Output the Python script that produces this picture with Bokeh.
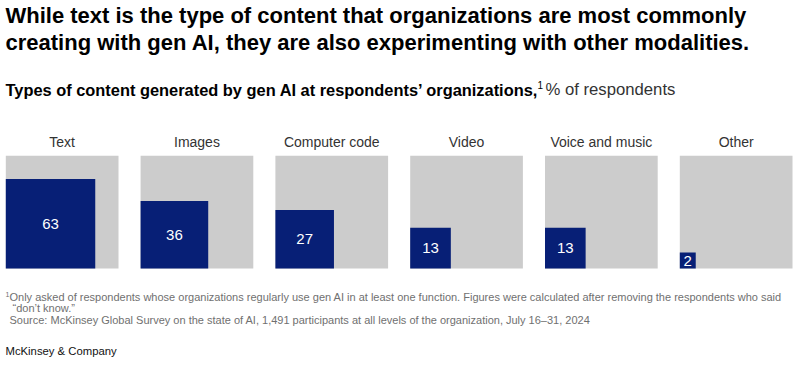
import numpy as np
from bokeh.plotting import figure
from bokeh.models import Range1d, Label, ColumnDataSource
from bokeh.embed import file_html
from bokeh.resources import INLINE
from bokeh.core.properties import value

# ---- data ----
categories = ["Text", "Images", "Computer code", "Video", "Voice and music", "Other"]
values = [63, 36, 27, 13, 13, 2]

title_lines = [
    "While text is the type of content that organizations are most commonly",
    "creating with gen AI, they are also experimenting with other modalities.",
]
subtitle_bold = "Types of content generated by gen AI at respondents\u2019 organizations,"
subtitle_unit = "% of respondents"
footnote_lines = [
    "Only asked of respondents whose organizations regularly use gen AI in at least one function. Figures were calculated after removing the respondents who said",
    "\u201cdon\u2019t know.\u201d",
    "Source: McKinsey Global Survey on the state of AI, 1,491 participants at all levels of the organization, July 16\u201331, 2024",
]
brand = "McKinsey & Company"

# ---- layout (pixel space) ----
W, H = 794, 357
PANEL_X0 = 5.3
PANEL_STEP = 134.8
SIDE = 112.7
PANEL_BOTTOM = 268.0
FONT = "Liberation Sans"
BLUE = "#071f76"
GRAY = "#cccccc"

n = len(categories)
idx = np.arange(n)
left = PANEL_X0 + idx * PANEL_STEP
frac_side = np.sqrt(np.array(values) / 100.0) * SIDE

bg = ColumnDataSource(dict(left=left, right=left + SIDE,
                           top=np.full(n, PANEL_BOTTOM - SIDE), bottom=np.full(n, PANEL_BOTTOM)))
fg = ColumnDataSource(dict(left=left, right=left + frac_side,
                           top=PANEL_BOTTOM - frac_side, bottom=np.full(n, PANEL_BOTTOM),
                           cx=left + frac_side / 2, cy=PANEL_BOTTOM - frac_side / 2,
                           lbl=[str(v) for v in values]))
cat = ColumnDataSource(dict(x=left + SIDE / 2, y=np.full(n, 141.0), lbl=categories))

p = figure(width=W, height=H, output_backend="svg", toolbar_location=None,
           x_range=Range1d(0, W), y_range=Range1d(H, 0), min_border=0)
p.axis.visible = False
p.grid.visible = False
p.outline_line_color = None
p.background_fill_color = "white"
p.border_fill_color = "white"

p.quad(left="left", right="right", top="top", bottom="bottom", source=bg,
       fill_color=GRAY, line_color=None)
p.quad(left="left", right="right", top="top", bottom="bottom", source=fg,
       fill_color=BLUE, line_color=None)
p.text(x="cx", y="cy", text="lbl", source=fg, text_align="center", text_baseline="middle",
       text_font=value(FONT), text_font_size="15px", text_color="white")
p.text(x="x", y="y", text="lbl", source=cat, text_align="center", text_baseline="middle",
       text_font=value(FONT), text_font_size="14px", text_color="#333333")

def lab(x, y, t, size, color="#000000", style="normal"):
    p.add_layout(Label(x=x, y=y, text=t, text_font=FONT, text_font_size=size,
                       text_color=color, text_font_style=style,
                       text_align="left", text_baseline="middle"))

lab(5, 15, title_lines[0], "22px", style="bold")
lab(5, 42, title_lines[1], "22px", style="bold")
lab(5, 89, subtitle_bold, "16.4px", style="bold")
lab(537, 84, "1", "10px")
lab(545, 89, subtitle_unit, "16.7px", color="#333333")

lab(5, 294, "1", "7px", color="#707070")
lab(9, 296, footnote_lines[0], "11px", color="#707070")
lab(12, 307.5, footnote_lines[1], "11px", color="#707070")
lab(9, 319, footnote_lines[2], "11px", color="#707070")
lab(5, 350, brand, "11.3px", color="#111111")

open("out.html", "w").write(file_html(p, INLINE))
